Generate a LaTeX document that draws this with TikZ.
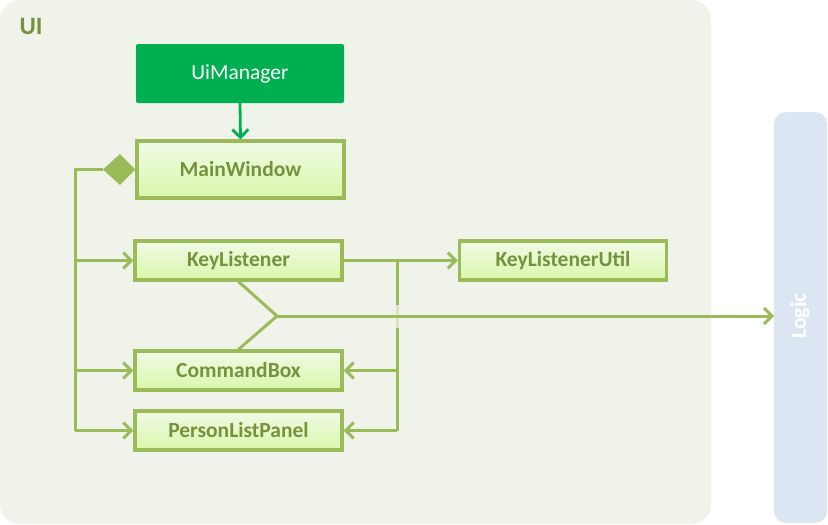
\documentclass[tikz,border=0pt]{standalone}
\usepackage{fontspec}
\setmainfont{Carlito}
\usetikzlibrary{arrows.meta,shapes.geometric}
\definecolor{uibg}{HTML}{F0F3EA}
\definecolor{logicbg}{HTML}{DCE6F2}
\definecolor{olive}{HTML}{9BBB59}
\definecolor{olivetext}{HTML}{76923C}
\definecolor{mgreen}{HTML}{00B050}
\definecolor{boxtop}{HTML}{F1FAE6}
\definecolor{boxbot}{HTML}{D9F7AA}
\tikzset{
  cls/.style={draw=olive, line width=3.2pt, top color=boxtop, bottom color=boxbot,
    text=olivetext, font=\bfseries\fontsize{21.5}{24}\selectfont, minimum width=207pt, inner sep=0pt},
  conn/.style={draw=olive, line width=3pt},
  arr/.style={conn, -{Straight Barb[length=8pt,width=16pt,line width=3pt]}},
}
\begin{document}
\begin{tikzpicture}[x=1pt,y=-1pt]
\useasboundingbox (0,0) rectangle (828,525);
\fill[uibg, rounded corners=20pt] (0,0) rectangle (711,524);
\fill[logicbg, rounded corners=12pt] (774,112) rectangle (827,523);
\node[font=\bfseries\fontsize{25}{28}\selectfont, text=olivetext] (uil) at (31,26) {UI};
\node[rotate=90, text=white, font=\bfseries\fontsize{22}{24}\selectfont] (logic) at (800,316) {Logic};
\coordinate (lg) at (774,316);

\node[fill=mgreen, rounded corners=2pt, minimum width=208pt, minimum height=59pt, text=white,
  font=\fontsize{21.5}{24}\selectfont, inner sep=0pt] (um) at (240,73.5) {UiManager};
\node[cls, minimum width=207pt, minimum height=57pt] (mw) at (240.5,169.5) {MainWindow};
\node[cls, minimum height=39pt] (kl) at (238.5,260.5) {KeyListener};
\node[cls, minimum height=39pt] (cb) at (238.5,370.5) {CommandBox};
\node[cls, minimum height=39pt] (pl) at (238.5,430.5) {PersonListPanel};
\node[cls, minimum height=39pt] (ku) at (563,260.5) {KeyListenerUtil};

\draw[draw=mgreen, line width=2.8pt, -{Straight Barb[length=8pt,width=16pt,line width=2.8pt]}] (um.south) -- (mw.north);

% composition trunk
\coordinate (t0) at (75,169.5);
\coordinate (t1) at (75,260.5);
\coordinate (t2) at (75,370.5);
\coordinate (t3) at (75,430.5);
\draw[conn] (t3) -- (t0) -- (103,169.5);
\fill[olive] (mw.west) -- (120,154) -- (103,169.5) -- (120,185) -- cycle;
\draw[arr] (t1) -- (kl.west);
\draw[arr] (t2) -- (cb.west);
\draw[arr] (t3) -- (pl.west);

% KeyListener dependencies
\coordinate (r1) at (397,260.5);
\coordinate (r2) at (397,370.5);
\coordinate (r3) at (397,430.5);
\draw[arr] (kl.east) -- (ku.west);
\draw[conn] (r1) -- (r3);
\draw[arr] (r2) -- (cb.east);
\draw[arr] (r3) -- (pl.east);

% to Logic
\fill[uibg, opacity=0.75] (389,305) rectangle (405,328);
\coordinate (br) at (277,316);
\draw[conn] (kl.south) -- (br);
\draw[conn] (cb.north) -- (br);
\draw[arr] (br) -- (lg);
\end{tikzpicture}
\end{document}
